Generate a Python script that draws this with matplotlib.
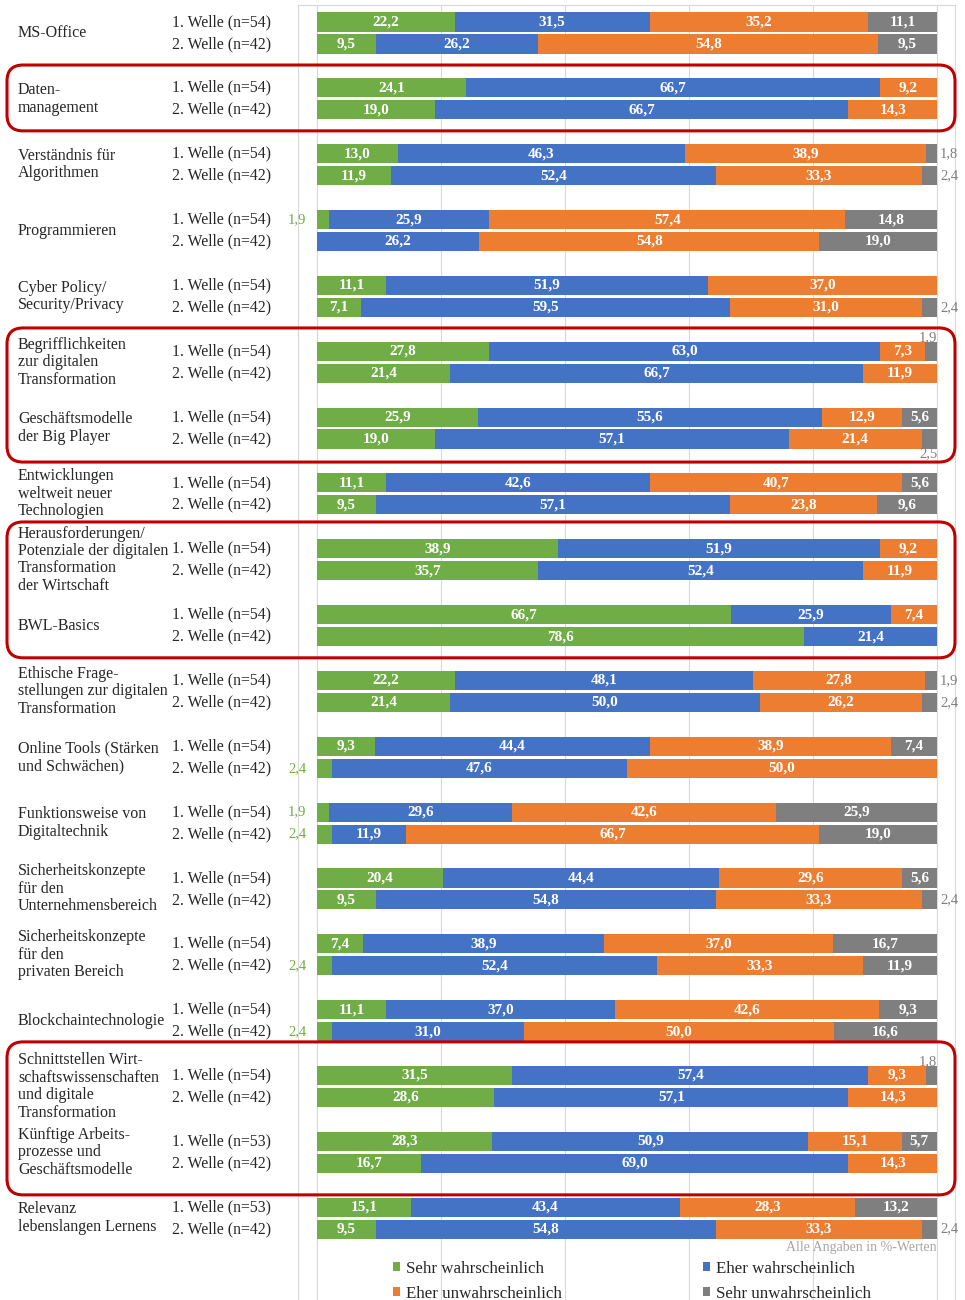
import numpy as np
import matplotlib
matplotlib.use("Agg")
import matplotlib.pyplot as plt
from matplotlib.patches import FancyBboxPatch
from matplotlib.transforms import Affine2D, blended_transform_factory

plt.rcParams['font.family'] = ['Liberation Serif', 'DejaVu Serif']

# Daten (Angaben in %)
categories = [
    "MS-Office",
    "Daten-\nmanagement",
    "Verständnis für\nAlgorithmen",
    "Programmieren",
    "Cyber Policy/\nSecurity/Privacy",
    "Begrifflichkeiten\nzur digitalen\nTransformation",
    "Geschäftsmodelle\nder Big Player",
    "Entwicklungen\nweltweit neuer\nTechnologien",
    "Herausforderungen/\nPotenziale der digitalen\nTransformation\nder Wirtschaft",
    "BWL-Basics",
    "Ethische Frage-\nstellungen zur digitalen\nTransformation",
    "Online Tools (Stärken\nund Schwächen)",
    "Funktionsweise von\nDigitaltechnik",
    "Sicherheitskonzepte\nfür den\nUnternehmensbereich",
    "Sicherheitskonzepte\nfür den\nprivaten Bereich",
    "Blockchaintechnologie",
    "Schnittstellen Wirt-\nschaftswissenschaften\nund digitale\nTransformation",
    "Künftige Arbeits-\nprozesse und\nGeschäftsmodelle",
    "Relevanz\nlebenslangen Lernens",
]
wave1_labels = ["1. Welle (n=54)"] * 17 + ["1. Welle (n=53)"] * 2
wave2_labels = ["2. Welle (n=42)"] * 19

series = ["Sehr wahrscheinlich", "Eher wahrscheinlich",
          "Eher unwahrscheinlich", "Sehr unwahrscheinlich"]
colors = ["#70AD47", "#4472C4", "#ED7D31", "#7F7F7F"]

w1_sehr = [22.2, 24.1, 13.0, 1.9, 11.1, 27.8, 25.9, 11.1, 38.9, 66.7,
           22.2, 9.3, 1.9, 20.4, 7.4, 11.1, 31.5, 28.3, 15.1]
w1_eher = [31.5, 66.7, 46.3, 25.9, 51.9, 63.0, 55.6, 42.6, 51.9, 25.9,
           48.1, 44.4, 29.6, 44.4, 38.9, 37.0, 57.4, 50.9, 43.4]
w1_eher_un = [35.2, 9.2, 38.9, 57.4, 37.0, 7.3, 12.9, 40.7, 9.2, 7.4,
              27.8, 38.9, 42.6, 29.6, 37.0, 42.6, 9.3, 15.1, 28.3]
w1_sehr_un = [11.1, 0, 1.8, 14.8, 0, 1.9, 5.6, 5.6, 0, 0,
              1.9, 7.4, 25.9, 5.6, 16.7, 9.3, 1.8, 5.7, 13.2]

w2_sehr = [9.5, 19.0, 11.9, 0, 7.1, 21.4, 19.0, 9.5, 35.7, 78.6,
           21.4, 2.4, 2.4, 9.5, 2.4, 2.4, 28.6, 16.7, 9.5]
w2_eher = [26.2, 66.7, 52.4, 26.2, 59.5, 66.7, 57.1, 57.1, 52.4, 21.4,
           50.0, 47.6, 11.9, 54.8, 52.4, 31.0, 57.1, 69.0, 54.8]
w2_eher_un = [54.8, 14.3, 33.3, 54.8, 31.0, 11.9, 21.4, 23.8, 11.9, 0,
              26.2, 50.0, 66.7, 33.3, 33.3, 50.0, 14.3, 14.3, 33.3]
w2_sehr_un = [9.5, 0, 2.4, 19.0, 2.4, 0, 2.5, 9.6, 0, 0,
              2.4, 0, 19.0, 2.4, 11.9, 16.6, 0, 0, 2.4]

waves = [[w1_sehr, w1_eher, w1_eher_un, w1_sehr_un],
         [w2_sehr, w2_eher, w2_eher_un, w2_sehr_un]]

# kleine Werte, die über/unter dem Balken stehen
label_pos = {(5, 0): "above", (6, 1): "below", (16, 0): "above"}

W, H = 965, 1300
fig = plt.figure(figsize=(W / 100, H / 100), dpi=100)
ax = fig.add_axes([298 / W, 0, 657 / W, 1 - 5 / H])
ax.set_xlim(-3.065, 102.9)
ax.set_ylim(58.23, -0.775)

n = len(categories)
for w, data in enumerate(waves):
    ypos = np.arange(n) * 3 + w
    left = np.zeros(n)
    for k in range(4):
        vals = np.array(data[k], dtype=float)
        ax.barh(ypos, vals, left=left, height=0.87, color=colors[k],
                label=series[k] if w == 0 else None, zorder=2)
        for i, v in enumerate(vals):
            if v == 0:
                continue
            txt = f"{v:.1f}".replace(".", ",")
            if v >= 3:
                ax.text(left[i] + v / 2, ypos[i], txt, ha="center", va="center",
                        color="white", fontsize=11, fontweight="bold", zorder=3)
            elif k == 0:
                ax.text(-3.2, ypos[i], txt, ha="center", va="center",
                        color="#70AD47", fontsize=10.5, zorder=3)
            else:
                pos = label_pos.get((i, w))
                if pos == "above":
                    ax.text(98.6, ypos[i] - 0.62, txt, ha="center", va="center",
                            color="#7F7F7F", fontsize=10.5, zorder=3)
                elif pos == "below":
                    ax.text(98.6, ypos[i] + 0.68, txt, ha="center", va="center",
                            color="#7F7F7F", fontsize=10.5, zorder=3)
                else:
                    ax.text(100.5, ypos[i], txt, ha="left", va="center",
                            color="#7F7F7F", fontsize=10.5, zorder=3)
        left += vals

ax.set_xticks([0, 20, 40, 60, 80, 100])
ax.xaxis.grid(True, color="#D9D9D9", lw=0.8)
ax.set_axisbelow(True)
ax.set_yticks([])
ax.tick_params(axis="x", length=0, labelbottom=False)
for s in ["left", "right", "top"]:
    ax.spines[s].set_color("#D9D9D9")
ax.spines["bottom"].set_visible(False)

# Beschriftungen links
trans = blended_transform_factory(fig.transFigure, ax.transData)
for i, cat in enumerate(categories):
    ax.text(18 / W, i * 3 + 0.5, cat, transform=trans, ha="left", va="center",
            fontsize=11.5, linespacing=1.12, color="#262626")
    ax.text(172 / W, i * 3, wave1_labels[i], transform=trans, ha="left",
            va="center", fontsize=11.3, color="#262626")
    ax.text(172 / W, i * 3 + 1, wave2_labels[i], transform=trans, ha="left",
            va="center", fontsize=11.3, color="#262626")

ax.text(100, 55.85, "Alle Angaben in %-Werten", ha="right", va="center",
        fontsize=10, color="#A6A6A6")

# Legende
h, l = ax.get_legend_handles_labels()
order = [0, 2, 1, 3]
ax.legend([h[j] for j in order], [l[j] for j in order], ncol=2,
          loc="upper left", bbox_to_anchor=(0.131, 0.037), frameon=False,
          fontsize=12.2, handlelength=0.45, handleheight=0.45,
          handletextpad=0.35, columnspacing=8.3, borderpad=0,
          labelspacing=0.55, labelcolor="#262626")

# rote Markierungen
px = Affine2D().scale(1 / W, 1 / H) + fig.transFigure
boxes = [(1, 1, 1.04, 0.96), (5, 6, 1.06, 1.05), (8, 9, 1.22, 0.97),
         (16, 17, 1.53, 1.44)]
for a, b, pt, pb in boxes:
    y_top = ax.transData.transform((0, a * 3 - pt))[1]
    y_bot = ax.transData.transform((0, b * 3 + 1 + pb))[1]
    fig.patches.append(FancyBboxPatch(
        (7, y_bot), 948, y_top - y_bot, boxstyle="round,pad=0,rounding_size=16",
        transform=px, fill=False, edgecolor="#C00000", lw=2.2, zorder=5))

fig.savefig("out.png", dpi=100)
